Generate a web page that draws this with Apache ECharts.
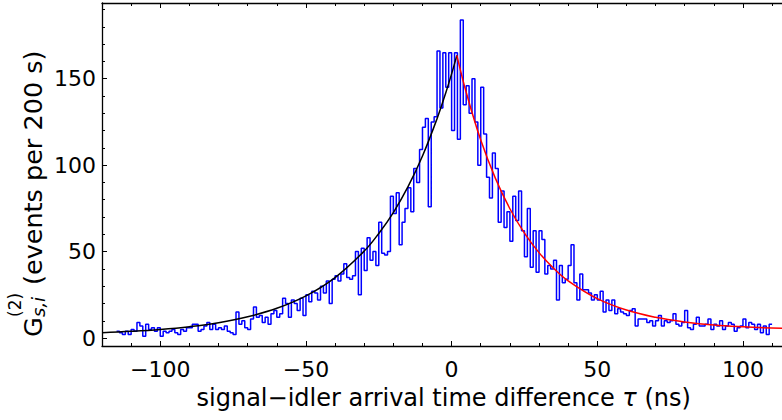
<!DOCTYPE html>
<html><head><meta charset="utf-8">
<script src="https://cdn.jsdelivr.net/npm/echarts@6/dist/echarts.min.js"></script>
<style>html,body{margin:0;padding:0;background:#fff}#c{width:782px;height:420px}</style>
</head><body><div id="c"></div>
<script>
// Histogram: 1 ns bins, first bin starts at tauStart
const tauStart = -115;
const binWidth = 1;
const counts = [
  4,3,2,4,2,5,4,9,7,1, 8,5,6,4,6,1,4,3,4,5, 3,2,5,4,6,6,8,8,4,5, 7,9,5,8,5,
  6,5,7,4,3,2,15,8,10,6, 5,11,18,12,13,9,12,8,14,16, 12,14,23,20,12,22,20,16,23,13, 25,21,27,26,22,30,26,33,
  20,34,36,33,37,43,35,34,36,50, 25,52,39,58,45,50,42,67,49,48, 50,82,72,84,54,67,75,87,73,98, 90,109,122,127,76,
  125,128,166,133,165,145,165,120,165,115, 184,135,146,130,150,125,100,145,118,93, 81,107,98,67,
  85,64,73,56,82,68,85,62,47,75, 41,62,38,62,57,37,42,40,45,22, 42,32,34,42,54,32,22,37,28,28, 26,22,25,22,27,15,22,16,22,14,
  17,15,14,13,16,17,7,11,11,11, 9,10,7,10,13,7,10,9,10,14, 8,7,9,16,6,5,8,12,7,7, 8,11,5,8,7,10,5,7,9,8, 4,6,7,11,6,9,8,5,8,3, 7,2,8
];
// Rising fit (black)
const riseTau = [-120,-110,-100,-90,-80,-70,-60,-50,-40,-30,-25,-20,-15,-10,-5,-2,0,1.8];
const riseVal = [3.1,3.9,5.0,6.6,8.9,12.3,17.2,24.4,35.0,50.3,60.5,72.6,87.4,105.3,126.9,141.9,152.8,163.5];
// Decaying fit (red)
const decayTau = [1.8,5,10,15,20,25,30,35,40,50,60,70,80,90,100,113.4];
const decayVal = [163.5,142.2,114.5,92.5,74.8,60.7,49.4,40.4,33.1,22.8,16.2,12.0,9.3,7.5,6.5,5.6];

const xMajor = [-100,-50,0,50,100];
const xMinor = [-110,-90,-80,-70,-60,-40,-30,-20,-10,10,20,30,40,60,70,80,90,110];
const yMajor = [0,50,100,150];
const yMinor = [10,20,30,40,60,70,80,90,110,120,130,140,160,170,180,190];

const X_MIN = -120, X_MAX = 113.4, Y_MIN = -4.6, Y_MAX = 193.8;
const FONT = 'DejaVu Sans';

const histData = counts.map((c, i) => [tauStart + i * binWidth, c]);
histData.push([tauStart + counts.length * binWidth, counts[counts.length - 1]]);
const riseData = riseTau.map((t, i) => [t, riseVal[i]]);
const decayData = decayTau.map((t, i) => [t, decayVal[i]]);

const minus = v => String(v).replace('-', '\u2212');
const axisCol = '#000';
function xAx(gridIndex, pos, ticks, len, withLine, withLabel) {
  return {
    type: 'value', gridIndex, position: pos, min: X_MIN, max: X_MAX,
    axisLine: { show: withLine, onZero: false, lineStyle: { color: axisCol, width: 1.3 } },
    axisTick: { show: true, inside: true, length: len, customValues: ticks, lineStyle: { color: axisCol, width: 1 } },
    axisLabel: withLabel ? { show: true, customValues: ticks, formatter: minus, fontFamily: FONT, fontSize: 22, color: '#000', margin: 12 } : { show: false },
    splitLine: { show: false }
  };
}
function yAx(gridIndex, pos, ticks, len, withLine, withLabel) {
  return {
    type: 'value', gridIndex, position: pos, min: Y_MIN, max: Y_MAX,
    axisLine: { show: withLine, onZero: false, lineStyle: { color: axisCol, width: 1.3 } },
    axisTick: { show: true, inside: true, length: len, customValues: ticks, lineStyle: { color: axisCol, width: 1 } },
    axisLabel: withLabel ? { show: true, customValues: ticks, formatter: minus, fontFamily: FONT, fontSize: 22, color: '#000', margin: 6 } : { show: false },
    splitLine: { show: false }
  };
}

const chart = echarts.init(document.getElementById('c'), null, { renderer: 'svg' });
const gridBox = { left: 102, right: 0, top: 3, bottom: 74 };
chart.setOption({
  animation: false,
  backgroundColor: '#fff',
  grid: [Object.assign({}, gridBox), Object.assign({}, gridBox)],
  xAxis: [
    xAx(0, 'bottom', xMajor, 5, true, true),
    xAx(0, 'top', xMajor, 5, true, false),
    xAx(1, 'bottom', xMinor, 3, false, false),
    xAx(1, 'top', xMinor, 3, false, false)
  ],
  yAxis: [
    yAx(0, 'left', yMajor, 5, true, true),
    yAx(1, 'left', yMinor, 3, false, false)
  ],
  series: [
    { type: 'line', xAxisIndex: 0, yAxisIndex: 0, data: histData, step: 'end', symbol: 'none', clip: true,
      lineStyle: { color: '#0000ff', width: 1.5 }, z: 2 },
    { type: 'line', xAxisIndex: 0, yAxisIndex: 0, data: riseData, smooth: 0.4, symbol: 'none', clip: true,
      lineStyle: { color: '#000000', width: 1.5 }, z: 3 },
    { type: 'line', xAxisIndex: 0, yAxisIndex: 0, data: decayData, smooth: 0.4, symbol: 'none', clip: true,
      lineStyle: { color: '#ff0000', width: 1.5 }, z: 3 }
  ],
  graphic: [
    { type: 'text', x: 443.7, y: 398, style: {
        text: 'signal\u2212idler arrival time difference {it|\u03c4} (ns)',
        fontFamily: FONT, fontSize: 24, fill: '#000', align: 'center', verticalAlign: 'middle',
        rich: { it: { fontStyle: 'italic', fontFamily: FONT, fontSize: 24, fill: '#000' } } } },
    { type: 'group', x: 42, y: 337, rotation: Math.PI / 2, children: [
      { type: 'text', x: 0, y: -9, style: { text: 'G', fontFamily: FONT, fontSize: 25.5, fill: '#000', align: 'left', verticalAlign: 'middle' } },
      { type: 'text', x: 20, y: -27, style: { text: '(2)', fontFamily: FONT, fontSize: 17, fill: '#000', align: 'left', verticalAlign: 'middle' } },
      { type: 'text', x: 20, y: -4, style: { text: 's,i', fontFamily: FONT, fontSize: 18, fontStyle: 'italic', fill: '#000', align: 'left', verticalAlign: 'middle' } },
      { type: 'text', x: 52, y: -9, style: { text: '(events per 200 s)', fontFamily: FONT, fontSize: 25.5, fill: '#000', align: 'left', verticalAlign: 'middle' } }
    ] }
  ]
});
</script>
</body></html>
